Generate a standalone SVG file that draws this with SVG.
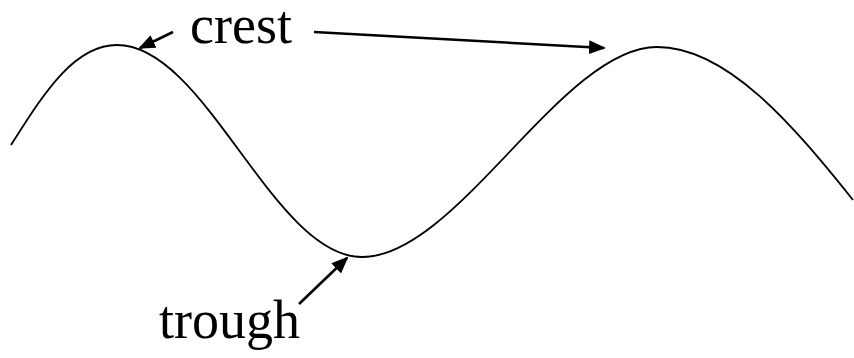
<svg xmlns="http://www.w3.org/2000/svg" width="854" height="358" viewBox="0 0 854 358">
<style>
.wave{fill:none;stroke:#000;stroke-width:1.8}
.arr{fill:none;stroke:#000;stroke-width:2.6}
.lbl{font-family:"Liberation Serif","Times New Roman",serif;font-size:54px;fill:#000}
</style>
<defs>
<marker id="ah" markerUnits="userSpaceOnUse" markerWidth="18" markerHeight="16" refX="15" refY="7" orient="auto">
<path d="M0,0 L17,7 L0,14 Z" fill="#000"/>
</marker>
</defs>
<rect width="854" height="358" fill="#fff"/>
<g id="wave">
<path class="wave" d="M11,145 C41,98.5 72,45 117,45 C206,45 273,257 362,257 C457,257 562,47 657,47 C727,47 793,125 853,200"/>
</g>
<g id="crest-label">
<text class="lbl" x="190" y="43">crest</text>
</g>
<g id="trough-label">
<text class="lbl" x="159" y="338">trough</text>
</g>
<g id="connectors">
<line class="arr" x1="173" y1="32" x2="140" y2="48" marker-end="url(#ah)"/>
<line class="arr" x1="314" y1="32" x2="604" y2="48" marker-end="url(#ah)"/>
<line class="arr" x1="299" y1="304" x2="347" y2="258" marker-end="url(#ah)"/>
</g>
</svg>
